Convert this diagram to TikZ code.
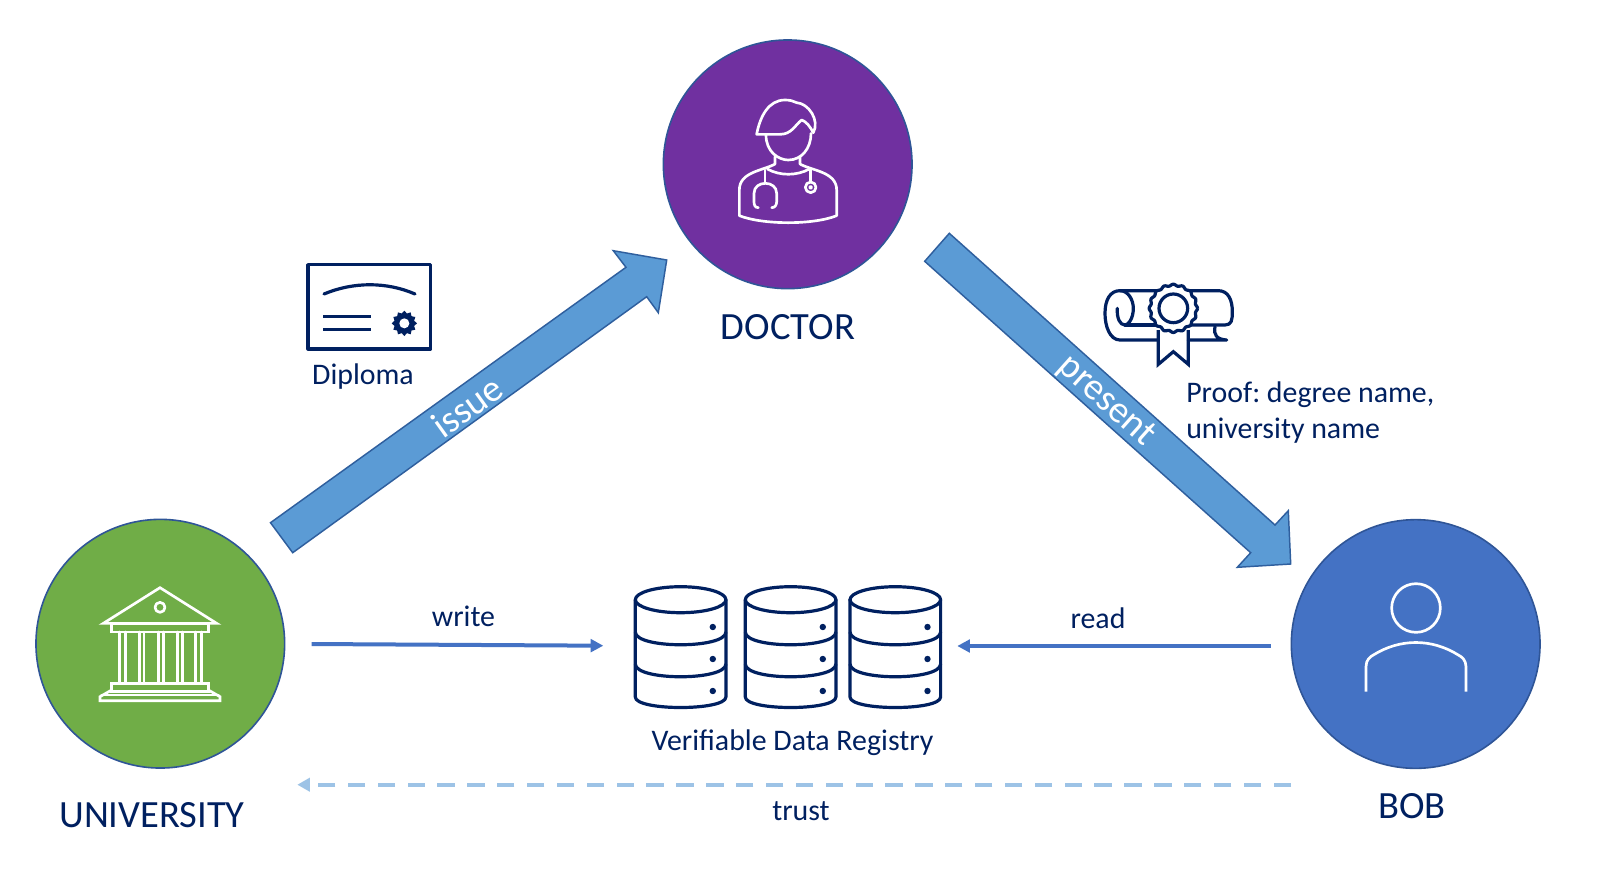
\documentclass[tikz,border=0pt]{standalone}
\usepackage{fontspec}
\setmainfont{Carlito}
\usetikzlibrary{arrows.meta,shapes.geometric}
\definecolor{navy}{HTML}{002060}
\definecolor{arrowblue}{HTML}{5B9BD5}
\definecolor{arrowedge}{HTML}{2F5F9E}
\definecolor{ringedge}{HTML}{2F5597}
\definecolor{docpurple}{HTML}{7030A0}
\definecolor{unigreen}{HTML}{70AD47}
\definecolor{bobblue}{HTML}{4472C4}
\definecolor{trustblue}{HTML}{9DC3E6}
\tikzset{
  x=0.75pt,y=-0.75pt,
  actor/.style={circle,draw=ringedge,line width=1.2pt,minimum size=186.5pt,inner sep=0pt},
  bigarrow/.style={fill=arrowblue,draw=arrowedge,line width=1.1pt,line join=miter},
  bigname/.style={text=navy,font=\fontsize{28.9}{34}\selectfont,anchor=base,inner sep=0pt},
  caption/.style={text=navy,font=\fontsize{22.4}{27}\selectfont,anchor=base,inner sep=0pt},
  onarrow/.style={text=white,font=\fontsize{28.5}{33}\selectfont,inner sep=0pt},
  flowarrow/.style={draw=bobblue,line width=3pt,-{Triangle[length=9.5pt,width=9.5pt]}},
  trustarrow/.style={draw=trustblue,line width=3.2pt,dash pattern=on 13pt off 9.4pt,-{Triangle[length=9.5pt,width=10pt]}},
  whiteicon/.style={draw=white,line width=2pt,line cap=round,line join=round},
  navyicon/.style={draw=navy,line width=2.4pt,line join=round},
}
\newcommand{\regcyl}[1]{%
  \begin{scope}[shift={(#1,0)}]
    \draw[navyicon] (45.3,599.7) ellipse [x radius=45.3,y radius=13];
    \draw[navyicon,line cap=round] (0,599.7) -- (0,697)
      .. controls (0,711) and (90.6,711) .. (90.6,697) -- (90.6,599.7);
    \draw[navyicon] (0,632) .. controls (0,649) and (90.6,649) .. (90.6,632);
    \draw[navyicon] (0,664) .. controls (0,681) and (90.6,681) .. (90.6,664);
    \fill[navy] (77.5,627) circle [radius=3.2] (77.5,659) circle [radius=3.2] (77.5,691) circle [radius=3.2];
  \end{scope}}
\begin{document}
\frenchspacing
\begin{tikzpicture}
\useasboundingbox (0,0) rectangle (1611,886);
\fill[white] (0,0) rectangle (1611,886);

% actors
\node[actor,fill=docpurple] (doctor) at (787.7,164.3) {};
\node[actor,fill=unigreen] (university) at (160.3,643.7) {};
\node[actor,fill=bobblue] (bob) at (1415.7,644) {};

% big arrows
\coordinate (issueA) at (270.5,522.7);
\coordinate (issueB) at (292.7,552.7);
\coordinate (issueC) at (646.7,296.7);
\coordinate (issueD) at (658.3,312.7);
\coordinate (issueTip) at (666.7,260);
\coordinate (issueE) at (613.3,250.7);
\coordinate (issueF) at (626,267.3);
\draw[bigarrow] (issueA) -- (issueB) -- (issueC) -- (issueD) -- (issueTip) -- (issueE) -- (issueF) -- cycle;
\coordinate (presA) at (949.3,233.3);
\coordinate (presB) at (924.7,261.3);
\coordinate (presC) at (1250.7,552.7);
\coordinate (presD) at (1237.3,567.3);
\coordinate (presTip) at (1290.7,564);
\coordinate (presE) at (1288.3,510.7);
\coordinate (presF) at (1275,525);
\draw[bigarrow] (presA) -- (presB) -- (presC) -- (presD) -- (presTip) -- (presE) -- (presF) -- cycle;
\node[onarrow,rotate=35.6] (issuelabel) at (467,406.5) {issue};
\node[onarrow,rotate=-41.8] (presentlabel) at (1106,401.5) {present};

% thin arrows
\coordinate (writeA) at (311.7,644);
\coordinate (writeB) at (603.3,645.7);
\draw[flowarrow] (writeA) -- (writeB);
\coordinate (readA) at (1270.7,646);
\coordinate (readB) at (957.3,646);
\draw[flowarrow] (readA) -- (readB);
\coordinate (trustA) at (1291,784.7);
\coordinate (trustB) at (297.3,784.7);
\draw[trustarrow] (trustA) -- (trustB);

% text
\node[bigname] (doctorname) at (788,339.5) {DOCTOR};
\node[bigname] (uniname) at (152,827) {UNIVERSITY};
\node[bigname] (bobname) at (1412,818) {BOB};
\node[caption] (diploma) at (363,384.5) {Diploma};
\node[caption] (registry) at (792.5,750) {Verifiable Data Registry};
\node[caption] (write) at (463.5,626) {write};
\node[caption] (read) at (1098,628) {read};
\node[caption] (trust) at (801,820.5) {trust};
\node[text=navy,font=\fontsize{22.4}{27}\selectfont,align=left,anchor=north west,inner sep=0pt] (proof) at (1186,381.5) {Proof: degree name,\\university name};

% registry
\regcyl{635.3}
\regcyl{745.3}
\regcyl{850}

% diploma icon
\begin{scope}[shift={(290,250)},x=0.25pt,y=-0.25pt]
  \draw[navyicon] (54,44) rectangle (422,297);
  \draw[navyicon,line cap=round] (102,132) .. controls (190,95) and (290,95) .. (375,132);
  \draw[navyicon] (100,200) -- (243,200) (100,238) -- (243,238);
  \node[star,star points=12,star point ratio=1.25,minimum size=19pt,fill=navy,inner sep=0pt] (seal) at (343,220) {};
  \fill[white] (343,220) circle [radius=15];
\end{scope}

% scroll icon
\begin{scope}[shift={(1100,270)},x=0.25pt,y=-0.25pt]
  \draw[navyicon,line cap=round] (175,210) -- (60,210) .. controls (30,210) and (15,170) .. (15,130)
     .. controls (15,90) and (30,62) .. (60,62) -- (355,62)
     .. controls (385,62) and (397,90) .. (397,125) .. controls (397,150) and (395,165) .. (375,165) -- (270,165);
  \draw[navyicon,line cap=round] (60,62) .. controls (85,62) and (100,90) .. (100,115) .. controls (100,145) and (85,165) .. (75,165)
     .. controls (60,165) and (50,145) .. (52,115);
  \draw[navyicon,line cap=round] (75,165) -- (165,165);
  \draw[navyicon,line cap=round] (265,210) -- (380,210) .. controls (350,208) and (340,195) .. (345,170);
  \draw[navyicon,line join=miter] (175,180) -- (175,283) -- (220,245) -- (265,283) -- (265,180);
  \draw[navyicon,fill=white] plot[domain=0:360,samples=145,smooth] ({220+(70+2.5*cos(16*\x))*cos(\x)},{115+(70+2.5*cos(16*\x))*sin(\x)});
  \draw[navyicon] (220,115) circle [radius=43];
\end{scope}

% doctor icon
\begin{scope}[shift={(640,20)},x=0.25pt,y=-0.25pt]
  \draw[whiteicon] (350,343) .. controls (360,290) and (385,240) .. (435,240) .. controls (450,240) and (460,243) .. (470,248)
     .. controls (505,250) and (540,300) .. (520,338) .. controls (510,320) and (500,305) .. (485,300)
     .. controls (465,315) and (455,343) .. (420,343) -- cycle;
  \draw[whiteicon] (378,345) .. controls (378,395) and (415,420) .. (445,420) .. controls (485,420) and (513,385) .. (513,340);
  \draw[whiteicon] (405,410) -- (405,432) .. controls (370,452) and (298,455) .. (298,510) -- (298,587)
     .. controls (370,615) and (520,615) .. (590,587) -- (590,510) .. controls (590,455) and (515,452) .. (480,432) -- (480,410);
  \draw[whiteicon] (382,447) .. controls (420,468) and (470,468) .. (508,447);
  \draw[whiteicon] (375,450) -- (375,487);
  \draw[whiteicon] (355,563) .. controls (345,563) and (342,555) .. (342,545) -- (342,520) .. controls (342,480) and (410,480) .. (410,520) -- (410,545) .. controls (410,555) and (405,563) .. (395,563);
  \draw[whiteicon] (512,447) -- (512,486);
  \draw[whiteicon] (512,502) circle [radius=16];
  \draw[whiteicon] (512,502) circle [radius=3];
\end{scope}

% university icon
\begin{scope}[shift={(20,510)},x=0.25pt,y=-0.25pt]
  \draw[whiteicon,line join=miter] (250,340) -- (420,233) -- (590,340) -- cycle;
  \draw[whiteicon] (420,292) circle [radius=15];
  \draw[whiteicon,line join=miter] (275,342) rectangle (565,366);
  \foreach \a/\b in {298/316,358/372,416/430,472/487,526/545}
    \draw[whiteicon] (\a,366) -- (\a,520) (\b,366) -- (\b,520);
  \draw[whiteicon,line join=miter] (275,520) rectangle (565,545);
  \draw[whiteicon,line join=miter] (275,540) -- (240,560) -- (240,572) -- (600,572) -- (600,560) -- (565,540);
  \draw[whiteicon] (245,555) -- (595,555);
\end{scope}

% bob icon
\begin{scope}[shift={(1290,520)},x=0.25pt,y=-0.25pt]
  \draw[whiteicon] (378,264) circle [radius=73];
  \draw[whiteicon,line cap=butt] (228,515) -- (228,440) .. controls (228,420) and (240,410) .. (250,405)
     .. controls (330,355) and (425,355) .. (505,405) .. controls (515,410) and (528,420) .. (528,440) -- (528,515);
\end{scope}
\end{tikzpicture}
\end{document}
